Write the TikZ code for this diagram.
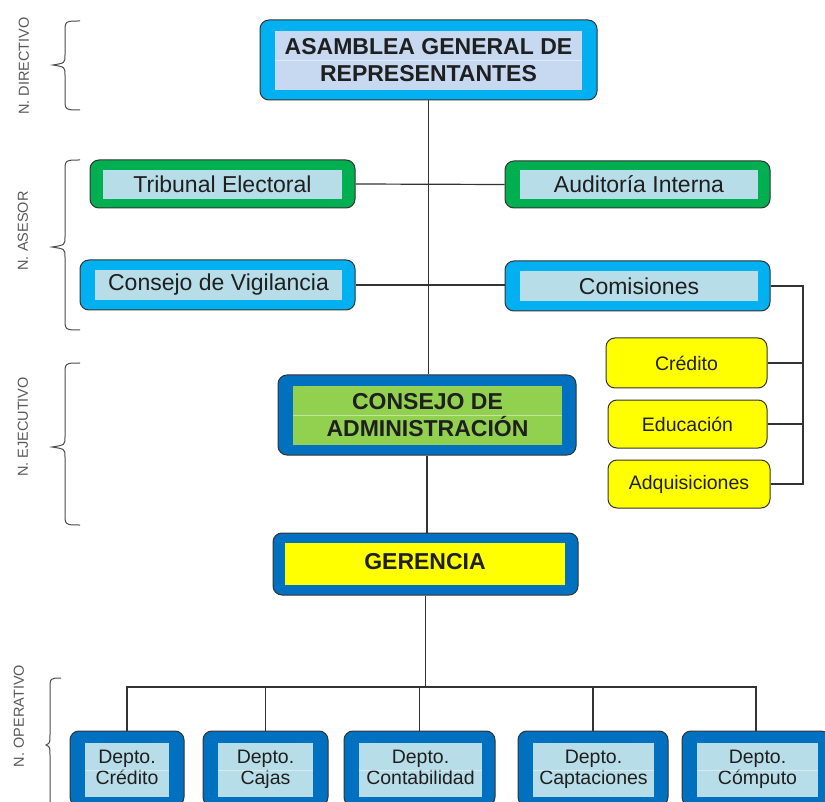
\documentclass[tikz,border=0pt]{standalone}
\usepackage{fontspec}
\setmainfont{Liberation Sans}
\usetikzlibrary{calc}
\definecolor{cyanB}{HTML}{00B0F0}
\definecolor{greenB}{HTML}{00B050}
\definecolor{navyB}{HTML}{0070C0}
\definecolor{paleB}{HTML}{B7DDE8}
\definecolor{paleS}{HTML}{C6D9F1}
\definecolor{limeG}{HTML}{92D050}
\definecolor{yel}{HTML}{FFFF00}
\definecolor{edgeC}{HTML}{333333}
\tikzset{
 outer/.style={draw=edgeC, line width=1pt, rounded corners=9pt, inner sep=0pt},
 inner/.style={inner sep=0pt, align=center, text=black!88},
 bigT/.style={font=\bfseries\fontsize{23}{27}\selectfont},
 midT/.style={font=\fontsize{23}{27}\selectfont},
 smallT/.style={font=\fontsize{19.5}{21}\selectfont},
 wire/.style={draw=edgeC, line width=1.2pt},
 divider/.style={draw=white, opacity=0.45, line width=0.8pt},
 lvl/.style={rotate=90, text=black!65, font=\fontsize{14.5}{16}\selectfont},
 bracestyle/.style={draw=black!70, line width=1pt},
}
\newcommand\levelbrace[6]{\draw[bracestyle] (#1,#4) .. controls (#2,#4) .. (#2,{#4+12}) -- (#2,{#5-10}) .. controls (#2,{#5-2}) .. (#3,#5) .. controls (#2,{#5+2}) .. (#2,{#5+10}) -- (#2,{#6-12}) .. controls (#2,#6) .. (#1,#6);}
\begin{document}
\begin{tikzpicture}[x=1pt,y=-1pt]
\useasboundingbox (0,0) rectangle (825,802);
\clip (0,0) rectangle (825,802);
\fill[white] (0,0) rectangle (825,802);

% level labels and braces
\node[lvl] (lvl1) at (24,66) {N. DIRECTIVO};
\node[lvl] (lvl2) at (23,231) {N. ASESOR};
\node[lvl] (lvl3) at (23,427) {N. EJECUTIVO};
\node[lvl] (lvl4) at (19,716) {N. OPERATIVO};
\levelbrace{80}{65}{53}{21}{65}{110}
\levelbrace{80}{65}{52}{160}{247}{330}
\levelbrace{80}{65}{52}{363}{447}{525}
\levelbrace{61}{50}{46}{678}{745}{830}

% top
\node[outer, fill=cyanB, minimum width=337pt, minimum height=80pt] (asam) at (428.5,60) {};
\node[inner, bigT, fill=paleS, minimum width=307pt, minimum height=59pt] (asamT) at (428.5,60.5) {ASAMBLEA GENERAL DE\\REPRESENTANTES};

% asesor
\node[outer, fill=greenB, minimum width=265pt, minimum height=48pt] (trib) at (222.5,184) {};
\node[inner, midT, fill=paleB, minimum width=239pt, minimum height=29pt] (tribT) at (222.5,184.5) {Tribunal Electoral};
\node[outer, fill=greenB, minimum width=265pt, minimum height=47pt] (aud) at (637.5,184.5) {};
\node[inner, midT, fill=paleB, minimum width=238pt, minimum height=29pt] (audT) at (639,184.5) {Auditoría Interna};
\node[outer, fill=cyanB, minimum width=275pt, minimum height=50pt] (vig) at (217.5,285) {};
\node[inner, midT, fill=paleB, minimum width=247pt, minimum height=30pt] (vigT) at (218.5,285) {Consejo de Vigilancia};
\node[outer, fill=cyanB, minimum width=265pt, minimum height=50pt] (com) at (637.5,286) {};
\node[inner, midT, fill=paleB, minimum width=238pt, minimum height=30pt] (comT) at (639,286) {Comisiones};

% comisiones
\node[outer, fill=yel, smallT, text=black!88, minimum width=161pt, minimum height=50pt] (cred) at (686.5,363) {Crédito};
\node[outer, fill=yel, smallT, text=black!88, minimum width=159pt, minimum height=48pt] (edu) at (687.5,424) {Educación};
\node[outer, fill=yel, smallT, text=black!88, minimum width=162pt, minimum height=48pt] (adq) at (689,484) {Adquisiciones};

% ejecutivo
\node[outer, fill=navyB, minimum width=298pt, minimum height=80pt] (cadm) at (427,415) {};
\node[inner, bigT, fill=limeG, minimum width=269pt, minimum height=59pt] (cadmT) at (427.5,415.5) {CONSEJO DE\\ADMINISTRACIÓN};
\node[outer, fill=navyB, minimum width=305pt, minimum height=62pt] (ger) at (425.5,564) {};
\node[inner, bigT, fill=yel, minimum width=280pt, minimum height=42pt] (gerT) at (425,564) {\raisebox{5pt}{GERENCIA}};

% departamentos
\node[outer, fill=navyB, minimum width=114pt, minimum height=75pt] (d1) at (127,768.5) {};
\node[inner, smallT, fill=paleB, minimum width=84pt, minimum height=54pt] (d1T) at (127,770) {Depto.\strut\\Crédito\strut};
\node[outer, fill=navyB, minimum width=125pt, minimum height=75pt] (d2) at (265.5,768.5) {};
\node[inner, smallT, fill=paleB, minimum width=95pt, minimum height=54pt] (d2T) at (265.5,770) {Depto.\strut\\Cajas\strut};
\node[outer, fill=navyB, minimum width=151pt, minimum height=75pt] (d3) at (419.5,768.5) {};
\node[inner, smallT, fill=paleB, minimum width=123pt, minimum height=54pt] (d3T) at (420.5,770) {Depto.\strut\\Contabilidad\strut};
\node[outer, fill=navyB, minimum width=150pt, minimum height=75pt] (d4) at (593,768.5) {};
\node[inner, smallT, fill=paleB, minimum width=121pt, minimum height=54pt] (d4T) at (593.5,770) {Depto.\strut\\Captaciones\strut};
\node[outer, fill=navyB, minimum width=148pt, minimum height=75pt] (d5) at (756,768.5) {};
\node[inner, smallT, fill=paleB, minimum width=121pt, minimum height=54pt] (d5T) at (757.5,770) {Depto.\strut\\Cómputo\strut};

% dividers in two-line cells
\foreach \n in {asamT,cadmT,d1T,d2T,d3T,d4T,d5T}{\draw[divider] (\n.west) -- (\n.east);}

% connectors
\draw[wire] (asam.south) -- (asam.south |- cadm.north);
\draw[wire] (cadm.south) -- (cadm.south |- ger.north);
\draw[wire] (trib.east) -- (aud.west);
\draw[wire] (vig.east) -- (vig.east -| com.west);
\coordinate (cbus) at (803,286);
\draw[wire] (com.east) -- (cbus) -- (cbus |- adq.east) -- (adq.east);
\draw[wire] (cred.east) -- (cred.east -| cbus);
\draw[wire] (edu.east) -- (edu.east -| cbus);
\coordinate (bus) at (424,687);
\draw[wire] (ger.south) -- (ger.south |- bus);
\draw[wire] (d1.north) -- (d1.north |- bus) -- (d5.north |- bus) -- (d5.north);
\foreach \n in {d2,d3,d4}{\draw[wire] (\n.north) -- (\n.north |- bus);}
\end{tikzpicture}
\end{document}
